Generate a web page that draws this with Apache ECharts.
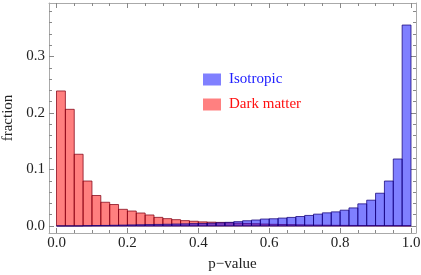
<!DOCTYPE html>
<html>
<head>
<meta charset="utf-8">
<script src="https://cdn.jsdelivr.net/npm/echarts@6/dist/echarts.min.js"></script>
<style>html,body{margin:0;padding:0;background:#fff}#c{width:421px;height:275px}</style>
</head>
<body>
<div id="c"></div>
<script>
// bins: 40 bins of width 0.025 on [0,1]
const binWidth = 0.025;
const darkMatter = [0.239, 0.2065, 0.127, 0.0796, 0.054, 0.042, 0.038, 0.0295, 0.0265, 0.023,
  0.0195, 0.0153, 0.013, 0.0112, 0.0095, 0.0084, 0.0073, 0.0068, 0.0064, 0.0058,
  0.005, 0.0045, 0.004, 0.0035, 0.003, 0.0027, 0.0024, 0.0021, 0.0018, 0.0016,
  0.0014, 0.0012, 0.0011, 0.001, 0.0009, 0.0008, 0.0007, 0.0006, 0.0005, 0.0004];
const isotropic = [0, 0, 0, 0.0005, 0.0008, 0.001, 0.0013, 0.0016, 0.0019, 0.0022,
  0.0025, 0.0028, 0.0031, 0.0035, 0.0038, 0.0042, 0.0045, 0.005, 0.0057, 0.0065,
  0.0077, 0.0093, 0.0106, 0.0123, 0.0128, 0.014, 0.0152, 0.0168, 0.0187, 0.021,
  0.0233, 0.025, 0.028, 0.032, 0.0392, 0.0457, 0.058, 0.0796, 0.1186, 0.3557];
const xMajor = [0, 0.2, 0.4, 0.6, 0.8, 1.0];
const xMinor = [0.05, 0.1, 0.15, 0.25, 0.3, 0.35, 0.45, 0.5, 0.55, 0.65, 0.7, 0.75, 0.85, 0.9, 0.95];
const yMajor = [0, 0.1, 0.2, 0.3];
const yMinor = [0.02, 0.04, 0.06, 0.08, 0.12, 0.14, 0.16, 0.18, 0.22, 0.24, 0.26, 0.28, 0.32, 0.34, 0.36, 0.38];

const X_MIN = -0.0212, X_MAX = 1.0141, Y_MIN = -0.0124, Y_MAX = 0.3947;
const font = 'Liberation Serif';
const tickColor = '#888';
const frameColor = '#aaa';

function toData(vals) {
  return vals.map((v, i) => [i * binWidth, (i + 1) * binWidth, v]);
}
function makeRender(fill, stroke) {
  return function (params, api) {
    const p0 = api.coord([api.value(0), 0]);
    const p1 = api.coord([api.value(1), api.value(2)]);
    return {
      type: 'rect',
      shape: { x: p0[0], y: p1[1], width: p1[0] - p0[0], height: p0[1] - p1[1] },
      style: { fill: fill, stroke: stroke, lineWidth: 1 }
    };
  };
}
function ax(dim, grid, pos, vals, len, labels, line) {
  return {
    type: 'value', position: pos, gridIndex: grid, offset: 0,
    min: dim === 'x' ? X_MIN : Y_MIN, max: dim === 'x' ? X_MAX : Y_MAX,
    axisLine: { show: line, onZero: false, lineStyle: { color: frameColor, width: 1 } }, splitLine: { show: false },
    axisTick: { show: true, inside: true, length: len, customValues: vals, lineStyle: { color: tickColor } },
    axisLabel: labels ? { show: true, customValues: vals, margin: dim === 'x' ? 3 : 4, color: '#222', fontFamily: font, fontSize: 15,
      formatter: v => v.toFixed(1) } : { show: false }
  };
}

const xAxes = [
  ax('x', 0, 'bottom', xMajor, 5, true, true), ax('x', 0, 'top', xMajor, 5, false, true),
  ax('x', 1, 'bottom', xMinor, 3, false, false), ax('x', 1, 'top', xMinor, 3, false, false)
];
xAxes[0].name = 'p\u2212value';
xAxes[0].nameLocation = 'middle';
xAxes[0].nameGap = 24;
xAxes[0].nameTextStyle = { fontFamily: font, fontSize: 15, color: '#222' };
const yAxes = [
  ax('y', 0, 'left', yMajor, 5, true, true), ax('y', 0, 'right', yMajor, 5, false, true),
  ax('y', 1, 'left', yMinor, 3, false, false), ax('y', 1, 'right', yMinor, 3, false, false)
];
yAxes[0].name = 'fraction';
yAxes[0].nameLocation = 'middle';
yAxes[0].nameGap = 32;
yAxes[0].nameTextStyle = { fontFamily: font, fontSize: 15, color: '#222' };

const gridBox = { left: 49, top: 3, width: 367, height: 230, containLabel: false, outerBoundsMode: 'none' };

const chart = echarts.init(document.getElementById('c'), null, { renderer: 'canvas' });
chart.setOption({
  animation: false,
  backgroundColor: '#fff',
  grid: [Object.assign({}, gridBox), Object.assign({}, gridBox)],
  xAxis: xAxes,
  yAxis: yAxes,
  legend: {
    orient: 'vertical', left: 198, top: 67, itemWidth: 18, itemHeight: 12, itemGap: 10,
    icon: 'rect',
    textStyle: { fontFamily: font, fontSize: 15, padding: [0, 0, 0, 3] },
    data: [
      { name: 'Isotropic', textStyle: { color: '#2020ff', fontFamily: font }, itemStyle: { color: '#8080ff', borderWidth: 0 } },
      { name: 'Dark matter', textStyle: { color: '#ff1010', fontFamily: font }, itemStyle: { color: '#ff8080', borderWidth: 0 } }
    ]
  },
  series: [
    { name: 'Dark matter', type: 'custom', xAxisIndex: 0, yAxisIndex: 0, data: toData(darkMatter),
      itemStyle: { color: '#ff8080' }, renderItem: makeRender('rgba(255,0,0,0.5)', 'rgba(130,0,20,0.75)') },
    { name: 'Isotropic', type: 'custom', xAxisIndex: 0, yAxisIndex: 0, data: toData(isotropic),
      itemStyle: { color: '#8080ff' }, renderItem: makeRender('rgba(0,0,255,0.5)', 'rgba(20,0,120,0.75)') }
  ]
});
</script>
</body>
</html>
